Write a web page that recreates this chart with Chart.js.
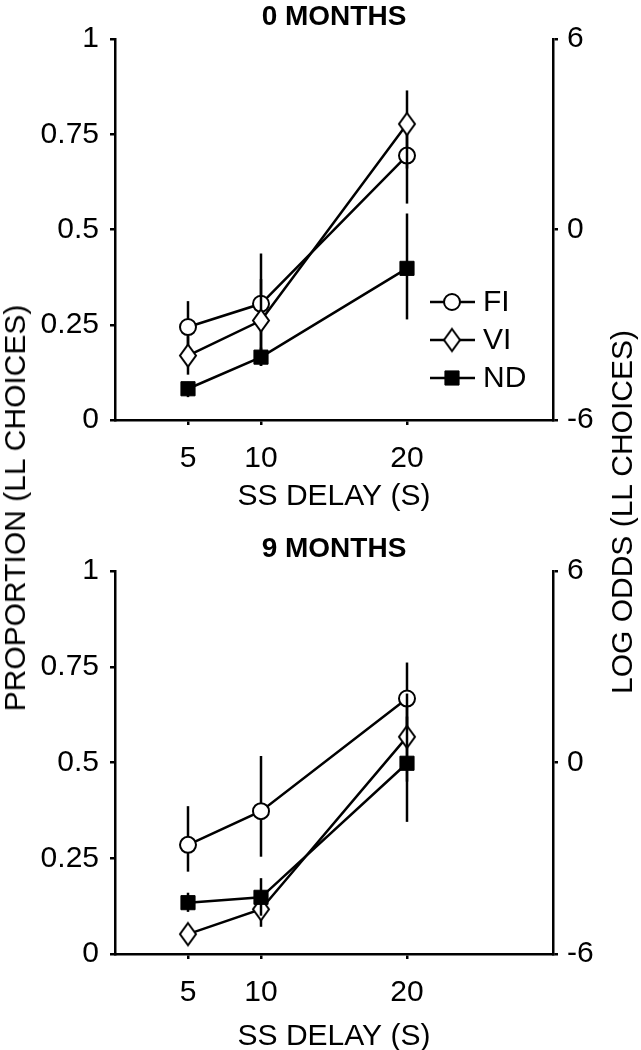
<!DOCTYPE html>
<html>
<head>
<meta charset="utf-8">
<script src="https://cdn.jsdelivr.net/npm/chart.js@4.4.1/dist/chart.umd.min.js"></script>
<style>
	body { margin: 0; background: #fff; width: 641px; height: 1050px; position: relative; overflow: hidden; font-family: 'Liberation Sans', Arial, sans-serif; }
	.panel { position: absolute; left: 0; width: 641px; height: 532px; }
	.ytitle { position: absolute; font-size: 30px; line-height: 30px; white-space: nowrap; color: #000; transform: translate(-50%, -50%) rotate(-90deg); }
</style>
</head>
<body>
<div class="panel" style="top:0"><canvas id="months0" width="641" height="532"></canvas></div>
<div class="panel" style="top:532px"><canvas id="months9" width="641" height="532"></canvas></div>
<div class="ytitle" style="left:15px;top:508px">PROPORTION (LL CHOICES)</div>
<div class="ytitle" style="left:622px;top:512px">LOG ODDS (LL CHOICES)</div>

<script>
// ss delays (s) and tick values
const delays = [5, 10, 20];
const groups = ['FI', 'VI', 'ND'];
const propTicks = [0, 0.25, 0.5, 0.75, 1];
const oddsTicks = [-6, 0, 6];

// 0 months
const fi0 = [0.244, 0.305, 0.694];
const vi0 = [0.169, 0.261, 0.777];
const nd0 = [0.082, 0.165, 0.398];
const fi0Low = [0.175, 0.18, 0.568];
const fi0High = [0.312, 0.437, 0.80];
const vi0Low = [0.119, 0.142, 0.66];
const vi0High = [0.22, 0.37, 0.865];
const nd0Low = [0.06, 0.142, 0.264];
const nd0High = [0.10, 0.19, 0.542];

// 9 months
const fi9 = [0.285, 0.373, 0.667];
const vi9 = [0.052, 0.117, 0.567];
const nd9 = [0.134, 0.148, 0.498];
const fi9Low = [0.215, 0.254, 0.58];
const fi9High = [0.386, 0.517, 0.761];
const vi9Low = [0.03, 0.071, 0.45];
const vi9High = [0.07, 0.16, 0.68];
const nd9Low = [0.11, 0.10, 0.345];
const nd9High = [0.16, 0.198, 0.62];

Chart.defaults.font.family = "'Liberation Sans', Arial, sans-serif";
Chart.defaults.font.size = 30;
Chart.defaults.color = '#000';

// open diamond marker
function makeDiamond() {
	const c = document.createElement('canvas');
	c.width = 22;
	c.height = 27;
	const g = c.getContext('2d');
	g.beginPath();
	g.moveTo(11, 2.5);
	g.lineTo(19, 13.5);
	g.lineTo(11, 24.5);
	g.lineTo(3, 13.5);
	g.closePath();
	g.fillStyle = '#fff';
	g.fill();
	g.lineWidth = 2;
	g.strokeStyle = '#000';
	g.stroke();
	return c;
}
const diamond = makeDiamond();

const markers = [
	{ pointStyle: 'circle', pointRadius: 8, pointBackgroundColor: '#fff', pointBorderWidth: 2 },
	{ pointStyle: diamond, pointRadius: 10, pointBackgroundColor: '#fff', pointBorderWidth: 2 },
	{ pointStyle: 'rect', pointRadius: 10, pointBackgroundColor: '#000', pointBorderWidth: 1 },
];

// vertical error bars, drawn just before each series so later series cross earlier markers
const errorBars = {
	id: 'errorBars',
	beforeDatasetDraw(chart, args) {
		const ds = chart.data.datasets[args.index];
		if (!ds.errLow) return;
		const ctx = chart.ctx;
		const xs = chart.scales.x;
		const ys = chart.scales.y;
		ctx.save();
		ctx.strokeStyle = '#000';
		ctx.lineWidth = 2.5;
		ds.data.forEach((p, i) => {
			const px = xs.getPixelForValue(p.x);
			ctx.beginPath();
			ctx.moveTo(px, ys.getPixelForValue(ds.errLow[i]));
			ctx.lineTo(px, ys.getPixelForValue(ds.errHigh[i]));
			ctx.stroke();
		});
		ctx.restore();
	},
};

// small legend inside the plot: line + marker + label
const keyBox = {
	id: 'keyBox',
	afterDatasetsDraw(chart, args, opts) {
		if (!opts.show) return;
		const ctx = chart.ctx;
		const area = chart.chartArea;
		const x0 = area.left + 315;
		ctx.save();
		chart.data.datasets.forEach((ds, i) => {
			const y = area.top + 263 + i * 38;
			ctx.strokeStyle = '#000';
			ctx.lineWidth = 2.5;
			ctx.beginPath();
			ctx.moveTo(x0, y);
			ctx.lineTo(x0 + 45, y);
			ctx.stroke();
			ctx.fillStyle = ds.pointBackgroundColor;
			ctx.lineWidth = ds.pointBorderWidth;
			Chart.helpers.drawPoint(ctx, { pointStyle: ds.pointStyle, radius: ds.pointRadius, rotation: 0, borderWidth: ds.pointBorderWidth }, x0 + 22, y);
			ctx.fillStyle = '#000';
			ctx.font = "30px 'Liberation Sans', Arial, sans-serif";
			ctx.textBaseline = 'middle';
			ctx.fillText(ds.label, x0 + 53, y + 1);
		});
		ctx.restore();
	},
};

function series(vals, low, high, i) {
	return Object.assign({
		label: groups[i],
		data: delays.map((d, k) => ({ x: d, y: vals[k] })),
		errLow: low,
		errHigh: high,
		borderColor: '#000',
		borderWidth: 2.5,
		pointBorderColor: '#000',
		tension: 0,
		order: 3 - i,
		clip: false,
	}, markers[i]);
}

function axisLook(ticks) {
	return {
		border: { display: true, color: '#000', width: 2.5 },
		grid: { drawOnChartArea: false, drawTicks: true, tickLength: 5, color: '#000', lineWidth: 2.5 },
		afterBuildTicks: (s) => { s.ticks = ticks.map((v) => ({ value: v })); },
	};
}

function panel(id, title, sets, withKey, xBottom, titlePad) {
	const ctx = document.getElementById(id);
	new Chart(ctx, {
		type: 'line',
		data: { datasets: sets },
		plugins: [errorBars, keyBox],
		options: {
			responsive: false,
			animation: false,
			events: [],
			layout: { padding: 0 },
			plugins: {
				legend: { display: false },
				tooltip: { enabled: false },
				keyBox: { show: withKey },
				title: {
					display: true,
					text: title,
					fullSize: false,
					font: { size: 28, weight: 'bold', lineHeight: 1.2 },
					padding: { top: 0, bottom: 5.4 },
				},
			},
			scales: {
				x: Object.assign(axisLook(delays), {
					type: 'linear',
					position: 'bottom',
					min: 0,
					max: 30,
					ticks: { padding: 16, maxRotation: 0 },
					title: { display: true, text: 'SS DELAY (S)', font: { size: 30, lineHeight: 1.2 }, padding: { top: 0, bottom: titlePad } },
					afterFit: (s) => { s.height = 532 - xBottom; },
				}),
				y: Object.assign(axisLook(propTicks), {
					type: 'linear',
					position: 'left',
					min: 0,
					max: 1,
					ticks: { padding: 11, callback: (v) => String(v) },
					afterFit: (s) => { s.width = 115; },
				}),
				odds: Object.assign(axisLook(oddsTicks), {
					type: 'linear',
					position: 'right',
					min: -6,
					max: 6,
					ticks: { padding: 9, callback: (v) => String(v) },
					afterFit: (s) => { s.width = 88; },
				}),
			},
		},
	});
}

panel('months0', '0 MONTHS', [
	series(fi0, fi0Low, fi0High, 0),
	series(vi0, vi0Low, vi0High, 1),
	series(nd0, nd0Low, nd0High, 2),
], true, 420, 17);

panel('months9', '9 MONTHS', [
	series(fi9, fi9Low, fi9High, 0),
	series(vi9, vi9Low, vi9High, 1),
	series(nd9, nd9Low, nd9High, 2),
], false, 422, 9);
</script>
</body>
</html>
